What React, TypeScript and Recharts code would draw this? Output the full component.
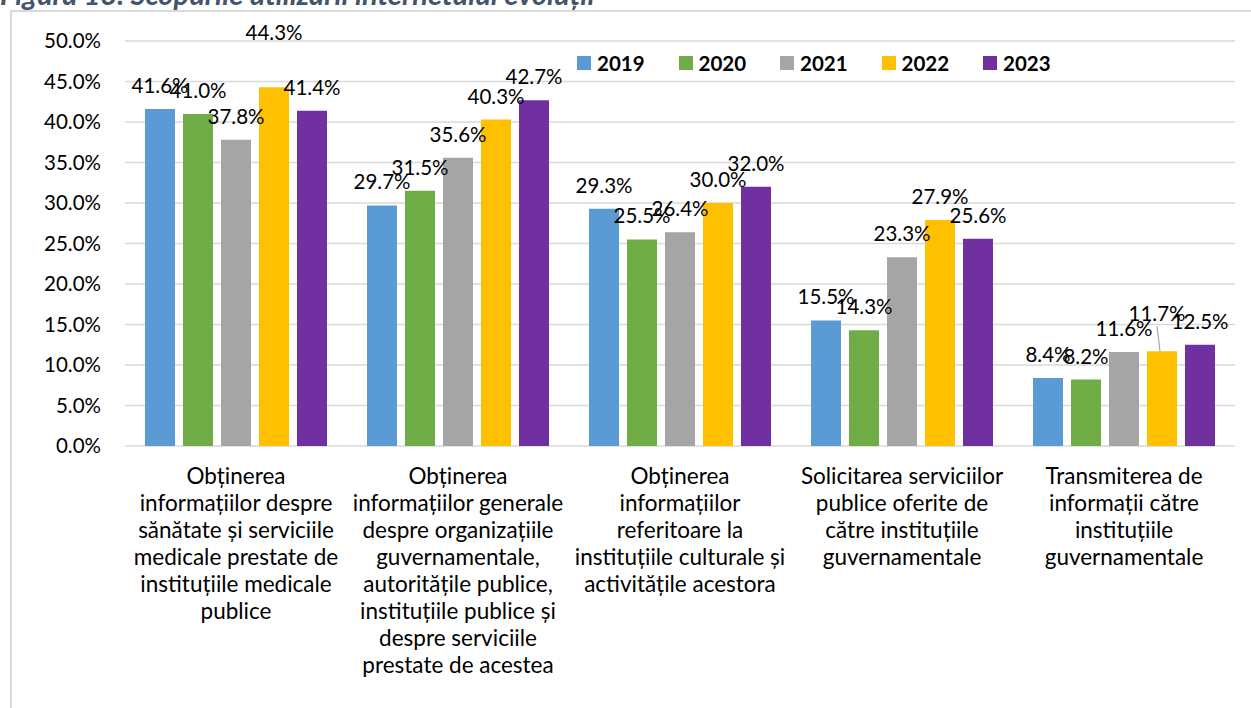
import React from "react";
import { BarChart, Bar, XAxis, YAxis, CartesianGrid, LabelList } from "recharts";

// category labels, already broken into lines the way the original wraps them
const categoryLines = [
  ["Obținerea", "informațiilor despre", "sănătate și serviciile", "medicale prestate de", "instituțiile medicale", "publice"],
  ["Obținerea", "informațiilor generale", "despre organizațiile", "guvernamentale,", "autoritățile publice,", "instituțiile publice și", "despre serviciile", "prestate de acestea"],
  ["Obținerea", "informațiilor", "referitoare la", "instituțiile culturale și", "activitățile acestora"],
  ["Solicitarea serviciilor", "publice oferite de", "către instituțiile", "guvernamentale"],
  ["Transmiterea de", "informații către", "instituțiile", "guvernamentale"],
];

const years = ["2019", "2020", "2021", "2022", "2023"];
const values2019 = [41.6, 29.7, 29.3, 15.5, 8.4];
const values2020 = [41.0, 31.5, 25.5, 14.3, 8.2];
const values2021 = [37.8, 35.6, 26.4, 23.3, 11.6];
const values2022 = [44.3, 40.3, 30.0, 27.9, 11.7];
const values2023 = [41.4, 42.7, 32.0, 25.6, 12.5];
const yTicks = [0, 5, 10, 15, 20, 25, 30, 35, 40, 45, 50];

const colors = ["#5B9BD5", "#70AD47", "#A5A5A5", "#FFC000", "#7030A0"];
const FONT = "Lato, 'Open Sans', sans-serif";

// labels that were dragged by hand in the original (dx, dy, leader line)
const labelNudges: Record<string, [number, number, boolean]> = {
  "2022-0": [0, -31, false],
  "2022-4": [-5, -14, true],
};

const seriesValues = [values2019, values2020, values2021, values2022, values2023];

const data = categoryLines.map((lines, i) => {
  const row: any = { name: lines.join(" ") };
  years.forEach((yr, s) => {
    row["y" + yr] = seriesValues[s][i];
  });
  return row;
});

const linesByName: Record<string, string[]> = {};
categoryLines.forEach((l) => (linesByName[l.join(" ")] = l));

const CategoryTick = (props: any) => {
  const { x, y, payload } = props;
  const lines = linesByName[payload.value] || [payload.value];
  return (
    <text x={x} y={y} textAnchor="middle" fontSize={22.5} fill="#000" fontFamily={FONT}>
      {lines.map((l, i) => (
        <tspan key={i} x={x} dy={i === 0 ? 38 : 27}>
          {l}
        </tspan>
      ))}
    </text>
  );
};

const makeLabel = (year: string) => (props: any) => {
  const { x, y, width, value, index } = props;
  const nudge = labelNudges[`${year}-${index}`] || [0, 0, false];
  const cx = x + width / 2 + nudge[0];
  const by = y - 16 + nudge[1];
  return (
    <g>
      {nudge[2] && (
        <line x1={cx} y1={by + 5} x2={x + width / 2 - 2} y2={y} stroke="#A6A6A6" strokeWidth={1.2} />
      )}
      <text x={cx} y={by} textAnchor="middle" fontSize={20.5} fill="#000" fontFamily={FONT}>
        {Number(value).toFixed(1)}%
      </text>
    </g>
  );
};

export default function App() {
  return (
    <div
      style={{
        position: "absolute",
        left: 0,
        top: 0,
        width: 1251,
        height: 708,
        overflow: "hidden",
        background: "#fff",
      }}
    >
      <div
        style={{
          position: "absolute",
          left: 0,
          top: -23,
          fontFamily: FONT,
          fontSize: 29,
          fontWeight: 700,
          fontStyle: "italic",
          color: "#44546A",
          whiteSpace: "nowrap",
          lineHeight: "34px",
        }}
      >
        Figura 13. Scopurile utilizării internetului evoluții
      </div>
      <div
        style={{
          position: "absolute",
          left: 10,
          top: 10,
          width: 1300,
          height: 800,
          border: "2px solid #D9D9D9",
        }}
      />
      <div style={{ position: "absolute", left: 0, top: 0 }}>
        <BarChart
          width={1251}
          height={708}
          data={data}
          margin={{ top: 41, right: 16, bottom: 0, left: 0 }}
          barSize={30}
          barGap={8}
        >
          <CartesianGrid vertical={false} stroke="#D9D9D9" strokeWidth={1.5} />
          <XAxis
            dataKey="name"
            height={262}
            axisLine={false}
            tickLine={false}
            tickSize={0}
            tickMargin={0}
            interval={0}
            tick={<CategoryTick />}
          />
          <YAxis
            width={125}
            domain={[0, 50]}
            ticks={yTicks}
            axisLine={false}
            tickLine={false}
            tickSize={6}
            tickMargin={18}
            tickFormatter={(v: number) => v.toFixed(1) + "%"}
            tick={{ fontSize: 20.5, fill: "#000", fontFamily: FONT }}
          />
          {years.map((yr, i) => (
            <Bar key={yr} dataKey={"y" + yr} name={yr} fill={colors[i]} isAnimationActive={false}>
              <LabelList dataKey={"y" + yr} content={makeLabel(yr)} />
            </Bar>
          ))}
        </BarChart>
      </div>
      {/* legend sits inside the plot, between the 50% and 45% gridlines */}
      <div
        style={{
          position: "absolute",
          left: 577,
          top: 52,
          height: 22,
          display: "flex",
          alignItems: "center",
          fontFamily: FONT,
        }}
      >
        {years.map((yr, i) => (
          <div key={yr} style={{ display: "flex", alignItems: "center", width: 101.5 }}>
            <span style={{ width: 14, height: 14, background: colors[i], marginRight: 6 }} />
            <span style={{ fontSize: 20.5, fontWeight: 700, color: "#000" }}>{yr}</span>
          </div>
        ))}
      </div>
    </div>
  );
}
